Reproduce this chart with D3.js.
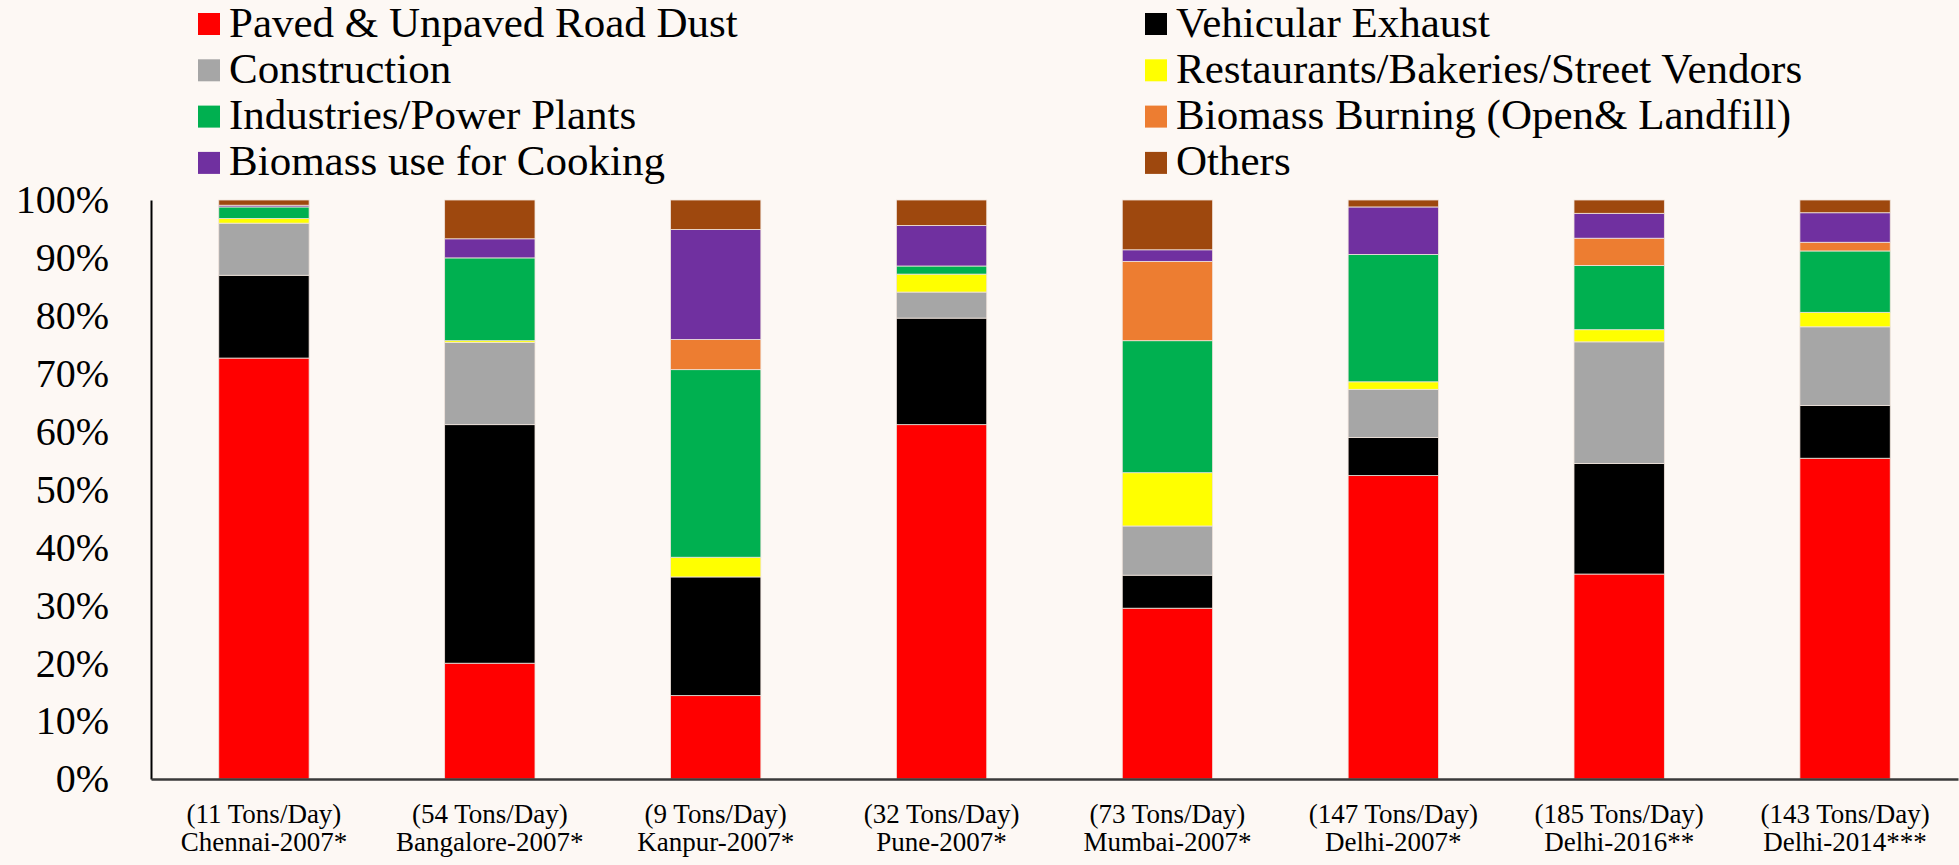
<!DOCTYPE html>
<html>
<head>
<meta charset="utf-8">
<script src="https://cdn.jsdelivr.net/npm/d3@7"></script>
<style>
  html, body { margin: 0; padding: 0; background: #fdf8f4; }
  svg { display: block; font-family: "Liberation Serif", "Times New Roman", serif; }
</style>
</head>
<body>
<div id="content"></div>
<script>
var Width = 1959;
var Height = 865;

// categories (x axis, two lines each)
var loads = ["(11 Tons/Day)", "(54 Tons/Day)", "(9 Tons/Day)", "(32 Tons/Day)",
  "(73 Tons/Day)", "(147 Tons/Day)", "(185 Tons/Day)", "(143 Tons/Day)"];
var cities = ["Chennai-2007*", "Bangalore-2007*", "Kanpur-2007*", "Pune-2007*",
  "Mumbai-2007*", "Delhi-2007*", "Delhi-2016**", "Delhi-2014***"];

// sources, bottom to top of each bar
var sources = ["Paved & Unpaved Road Dust", "Vehicular Exhaust", "Construction",
  "Restaurants/Bakeries/Street Vendors", "Industries/Power Plants",
  "Biomass Burning (Open& Landfill)", "Biomass use for Cooking", "Others"];
var colors = ["#ff0000", "#000000", "#a6a6a6", "#ffff00", "#00b050", "#ed7d31", "#7030a0", "#9e480e"];

// share of each source (%), one value per category
var roadDust       = [72.7, 20.0, 14.4, 61.2, 29.5, 52.4, 35.4, 55.4];
var vehicular      = [14.3, 41.2, 20.5, 18.4, 5.7, 6.6, 19.1, 9.1];
var construction   = [9.0, 14.2, 0, 4.5, 8.5, 8.3, 21.0, 13.6];
var restaurants    = [0.8, 0.3, 3.4, 3.1, 9.2, 1.3, 2.1, 2.5];
var industries     = [2.0, 14.3, 32.4, 1.4, 22.8, 22.0, 11.1, 10.6];
var biomassBurning = [0, 0, 5.2, 0, 13.7, 0, 4.7, 1.5];
var biomassCooking = [0.3, 3.3, 19.0, 7.0, 2.0, 8.2, 4.3, 5.1];
var others         = [0.9, 6.7, 5.1, 4.4, 8.6, 1.2, 2.3, 2.2];

var yTicks = [0, 0.1, 0.2, 0.3, 0.4, 0.5, 0.6, 0.7, 0.8, 0.9, 1];

var seriesValues = [roadDust, vehicular, construction, restaurants,
  industries, biomassBurning, biomassCooking, others];

// build rows for d3.stack
var rows = cities.map(function (c, i) {
  var r = { city: c, load: loads[i] };
  sources.forEach(function (s, j) { r[s] = seriesValues[j][i]; });
  return r;
});

var margin = { left: 151, right: 1, top: 200, bottom: 86 };

var svg = d3.select("#content").append("svg")
  .attr("width", Width)
  .attr("height", Height);

svg.append("rect").attr("width", Width).attr("height", Height).attr("fill", "#fdf8f4");

var xScale = d3.scaleBand()
  .domain(cities)
  .range([margin.left, Width - margin.right])
  .paddingInner(0.6)
  .paddingOuter(0.3);

var yScale = d3.scaleLinear()
  .domain([0, 1])
  .range([Height - margin.bottom, margin.top]);

var stack = d3.stack().keys(sources).offset(d3.stackOffsetExpand);
var stacked = stack(rows);

// bars
svg.append("g")
  .selectAll("g")
  .data(stacked)
  .enter()
  .append("g")
  .attr("fill", function (d, i) { return colors[i]; })
  .selectAll("rect")
  .data(function (d) { return d; })
  .enter()
  .append("rect")
  .attr("x", function (d) { return xScale(d.data.city); })
  .attr("y", function (d) { return yScale(d[1]); })
  .attr("width", xScale.bandwidth())
  .attr("height", function (d) { return Math.max(0, yScale(d[0]) - yScale(d[1])); })
  .attr("stroke", "#f0e4dc")
  .attr("stroke-width", function (d) { return d[1] - d[0] > 0 ? 0.8 : 0; });

// y axis
var yAxis = d3.axisLeft(yScale)
  .tickValues(yTicks)
  .tickFormat(d3.format(".0%"))
  .tickSize(0)
  .tickPadding(42);

var gy = svg.append("g")
  .attr("transform", "translate(" + margin.left + ",0)")
  .call(yAxis);
gy.select(".domain").attr("stroke", "#000").attr("stroke-width", 2);
gy.selectAll("text")
  .style("font-family", "'Liberation Serif', 'Times New Roman', serif")
  .style("font-size", "40px")
  .attr("fill", "#000");

// x axis
var xAxis = d3.axisBottom(xScale).tickSize(0).tickSizeOuter(0).tickFormat("");
var gx = svg.append("g")
  .attr("transform", "translate(0," + yScale(0) + ")")
  .call(xAxis);
gx.select(".domain").attr("stroke", "#3a3a3a").attr("stroke-width", 2.5);

var tickText = gx.selectAll(".tick")
  .append("text")
  .attr("fill", "#000")
  .attr("text-anchor", "middle")
  .style("font-family", "'Liberation Serif', 'Times New Roman', serif")
  .style("font-size", "27px");
tickText.append("tspan")
  .attr("x", 0)
  .attr("y", 44)
  .text(function (d, i) { return loads[i]; });
tickText.append("tspan")
  .attr("x", 0)
  .attr("y", 72)
  .text(function (d) { return d; });

// legend: two columns, row-major
var legendCols = [198, 1145];
var legend = svg.append("g")
  .selectAll("g")
  .data(sources)
  .enter()
  .append("g")
  .attr("transform", function (d, i) {
    return "translate(" + legendCols[i % 2] + "," + (24 + Math.floor(i / 2) * 46.3) + ")";
  });
legend.append("rect")
  .attr("x", 0)
  .attr("y", -11)
  .attr("width", 22)
  .attr("height", 22)
  .attr("fill", function (d, i) { return colors[i]; });
legend.append("text")
  .attr("x", 31)
  .attr("y", 12.5)
  .attr("fill", "#000")
  .style("font-size", "43px")
  .text(function (d) { return d; });
</script>
</body>
</html>
